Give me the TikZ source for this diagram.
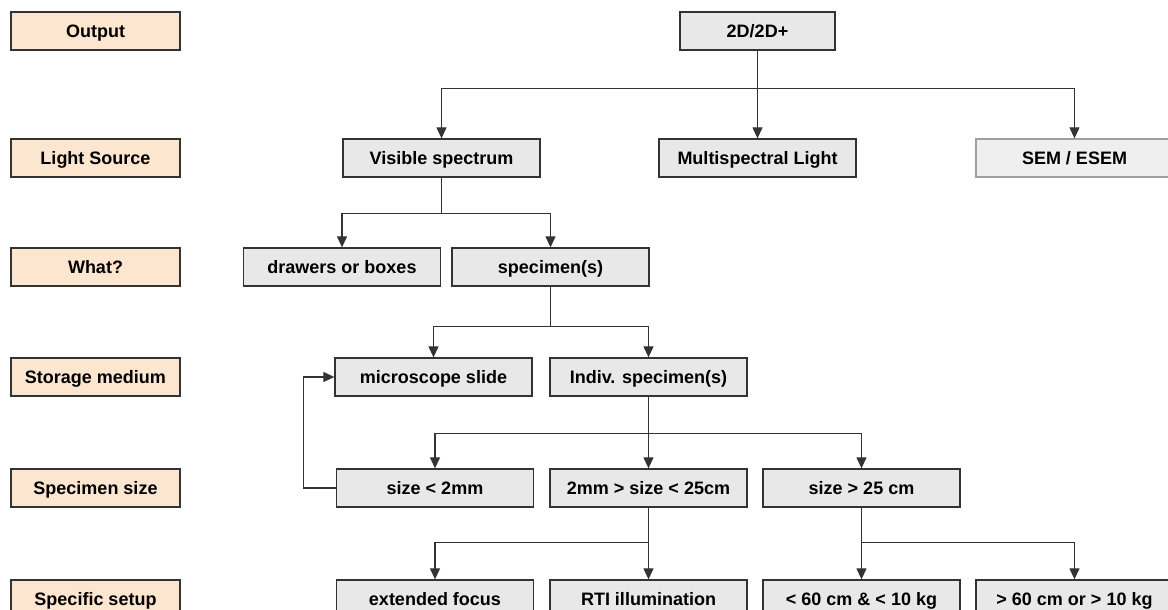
\documentclass[tikz,border=0pt]{standalone}
\usepackage{fontspec}
\setmainfont{Liberation Sans}
\usepackage{tikz}
\usepackage{xcolor}
\usetikzlibrary{arrows.meta}
\definecolor{peach}{HTML}{FDE6CF}
\definecolor{boxgray}{HTML}{E8E8E8}
\definecolor{linegray}{HTML}{333333}
\tikzset{
    level-box/.style = {draw=linegray, fill=peach, line width=1.3pt, rectangle, minimum width=169pt, minimum height=38pt, inner sep=0pt, text height=13pt, text depth=0pt, font=\fontsize{18}{21}\selectfont\bfseries},
    item-box/.style = {draw=linegray, fill=boxgray, line width=1.3pt, rectangle, minimum width=197pt, minimum height=38pt, inner sep=0pt, text height=13pt, text depth=0pt, font=\fontsize{18}{21}\selectfont\bfseries},
    item-box-faded/.style = {item-box, draw=gray!75, fill=boxgray!70},
    link/.style = {draw=linegray, line width=1.2pt, -{Triangle[length=11pt,width=10pt]}},
}

\begin{document}
\begin{tikzpicture}[x=1pt, y=-1pt]
\useasboundingbox (0,0) rectangle (1168,610);
\clip (0,0) rectangle (1168,610);

% row labels
\node[level-box] (out-lbl) at (95.5,31) {Output};
\node[level-box] (light-lbl) at (95.5,158) {Light Source};
\node[level-box] (what-lbl) at (95.5,267) {What?};
\node[level-box] (storage-lbl) at (95.5,377) {Storage medium};
\node[level-box] (size-lbl) at (95.5,488) {Specimen size};
\node[level-box] (setup-lbl) at (95.5,599) {Specific setup};

% tree
\node[item-box, minimum width=155pt] (out2d) at (757.5,31) {2D/2D+};
\node[item-box] (visible) at (441.5,158) {Visible spectrum};
\node[item-box] (multi) at (757.5,158) {Multispectral Light};
\node[item-box-faded] (sem) at (1074.5,158) {SEM / ESEM};
\node[item-box] (drawers) at (342,267) {drawers or boxes};
\node[item-box] (specimens) at (550.5,267) {specimen(s)};
\node[item-box] (slide) at (433.5,377) {microscope slide};
\node[item-box] (indiv) at (648.5,377) {Indiv. specimen(s)};
\node[item-box] (small) at (435,488) {size < 2mm};
\node[item-box] (medium) at (648.5,488) {2mm > size < 25cm};
\node[item-box] (large) at (861.5,488) {size > 25 cm};
\node[item-box] (focus) at (435,599) {extended focus};
\node[item-box] (rti) at (648.5,599) {RTI illumination};
\node[item-box] (lt60) at (861.5,599) {< 60 cm \& < 10 kg};
\node[item-box] (gt60) at (1074.5,599) {> 60 cm or > 10 kg};

% connectors
\draw[link] (out2d.south) -- ++(0,38) -| (visible.north);
\draw[link] (out2d.south) -- (multi.north);
\draw[link] (out2d.south) -- ++(0,38) -| (sem.north);
\draw[link] (visible.south) -- ++(0,36) -| (drawers.north);
\draw[link] (visible.south) -- ++(0,36) -| (specimens.north);
\draw[link] (specimens.south) -- ++(0,40) -| (slide.north);
\draw[link] (specimens.south) -- ++(0,40) -| (indiv.north);
\draw[link] (indiv.south) -- ++(0,37) -| (small.north);
\draw[link] (indiv.south) -- (medium.north);
\draw[link] (indiv.south) -- ++(0,37) -| (large.north);
\draw[link] (medium.south) -- ++(0,35) -| (focus.north);
\draw[link] (medium.south) -- (rti.north);
\draw[link] (large.south) -- ++(0,35) -| (lt60.north);
\draw[link] (large.south) -- ++(0,35) -| (gt60.north);
\draw[link] (small.west) -- ++(-32,0) |- (slide.west);
\end{tikzpicture}
\end{document}
